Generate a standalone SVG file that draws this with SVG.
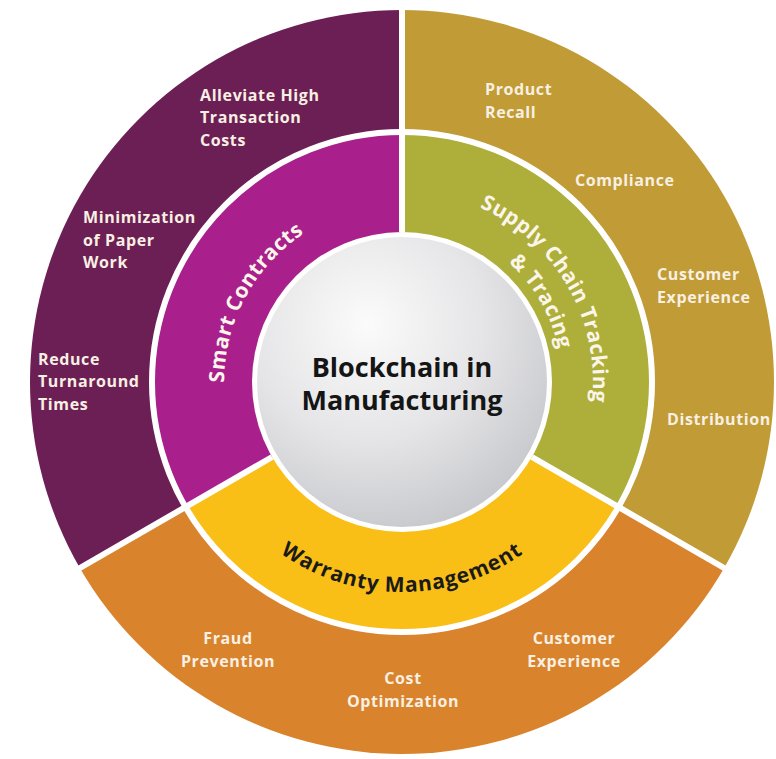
<svg xmlns="http://www.w3.org/2000/svg" width="776" height="759" viewBox="0 0 776 759">
  <defs>
    <radialGradient id="hub" cx="38%" cy="30%" r="80%">
      <stop offset="0" stop-color="#fbfbfb"/>
      <stop offset="0.5" stop-color="#e5e5e7"/>
      <stop offset="1" stop-color="#c2c3c8"/>
    </radialGradient>
    <path id="arcSmart" d="M233.27,438.38 A178,178 0 0 1 355.93,210.07"/>
    <path id="arcSupply1" d="M435.17,193.90 A191,191 0 0 1 581.48,447.33"/>
    <path id="arcSupply2" d="M429.78,224.43 A160,160 0 0 1 552.35,436.72"/>
    <path id="arcWarranty" d="M241.13,516.99 A210,210 0 0 0 562.87,516.99"/>
    <style>
      .lbl { font-family: "Open Sans", "Liberation Sans", sans-serif; font-weight: 700; font-size: 16px; letter-spacing: 0.6px; fill: #f8f0e2; }
      .mid { text-anchor: middle; }
      .ring { font-family: "Open Sans", "Liberation Sans", sans-serif; font-weight: 700; font-size: 21px; letter-spacing: 0.4px; fill: #fbf5ea; }
      .dark { fill: #1a1a1a; letter-spacing: 0.8px; }
      .hubtxt { font-family: "Open Sans", "Liberation Sans", sans-serif; font-weight: 700; font-size: 27px; fill: #151515; text-anchor: middle; }
      .sep { stroke: #ffffff; stroke-width: 6; fill: none; }
    </style>
  </defs>

  <g id="outer-smart-contracts">
    <path d="M402,382 L79.84,568 A372,372 0 0 1 402,10 Z" fill="#6c1f55"/>
    <text class="lbl" x="200" y="100.5">Alleviate High</text>
    <text class="lbl" x="200" y="123">Transaction</text>
    <text class="lbl" x="200" y="145.5">Costs</text>
    <text class="lbl" x="83" y="223">Minimization</text>
    <text class="lbl" x="83" y="245.5">of Paper</text>
    <text class="lbl" x="83" y="268">Work</text>
    <text class="lbl" x="38" y="364.5">Reduce</text>
    <text class="lbl" x="38" y="387">Turnaround</text>
    <text class="lbl" x="38" y="409.5">Times</text>
  </g>

  <g id="outer-supply-chain">
    <path d="M402,382 L402,10 A372,372 0 0 1 724.16,568 Z" fill="#c19b35"/>
    <text class="lbl" x="485" y="95">Product</text>
    <text class="lbl" x="485" y="117.5">Recall</text>
    <text class="lbl" x="575" y="186">Compliance</text>
    <text class="lbl" x="657" y="280">Customer</text>
    <text class="lbl" x="657" y="302.5">Experience</text>
    <text class="lbl" x="667" y="425">Distribution</text>
  </g>

  <g id="outer-warranty">
    <path d="M402,382 L724.16,568 A372,372 0 0 1 79.84,568 Z" fill="#d9832c"/>
    <text class="lbl mid" x="228" y="644">Fraud</text>
    <text class="lbl mid" x="228" y="666.5">Prevention</text>
    <text class="lbl mid" x="403" y="684">Cost</text>
    <text class="lbl mid" x="403" y="706.5">Optimization</text>
    <text class="lbl mid" x="574" y="644">Customer</text>
    <text class="lbl mid" x="574" y="666.5">Experience</text>
  </g>

  <g id="smart-contracts">
    <path d="M402,382 L185.49,507 A250,250 0 0 1 402,132 Z" fill="#a91f8c"/>
    <text class="ring"><textPath href="#arcSmart" startOffset="50%" text-anchor="middle">Smart Contracts</textPath></text>
  </g>

  <g id="supply-chain">
    <path d="M402,382 L402,132 A250,250 0 0 1 618.51,507 Z" fill="#adaf3a"/>
    <text class="ring"><textPath href="#arcSupply1" startOffset="50%" text-anchor="middle">Supply Chain Tracking</textPath></text>
    <text class="ring"><textPath href="#arcSupply2" startOffset="50%" text-anchor="middle">&amp; Tracing</textPath></text>
  </g>

  <g id="warranty-management">
    <path d="M402,382 L618.51,507 A250,250 0 0 1 185.49,507 Z" fill="#f9bf16"/>
    <text class="ring dark"><textPath href="#arcWarranty" startOffset="50%" text-anchor="middle">Warranty Management</textPath></text>
  </g>

  <g id="connectors">
    <circle class="sep" cx="402" cy="382" r="250"/>
    <line class="sep" x1="402" y1="232" x2="402" y2="6"/>
    <line class="sep" x1="272.1" y1="457" x2="76.4" y2="570"/>
    <line class="sep" x1="531.9" y1="457" x2="727.6" y2="570"/>
  </g>

  <g id="hub">
    <circle cx="402" cy="382" r="150" fill="#ffffff"/>
    <circle cx="402" cy="382" r="145" fill="url(#hub)"/>
    <text class="hubtxt" x="402" y="377">Blockchain in</text>
    <text class="hubtxt" x="402" y="410">Manufacturing</text>
  </g>
</svg>
